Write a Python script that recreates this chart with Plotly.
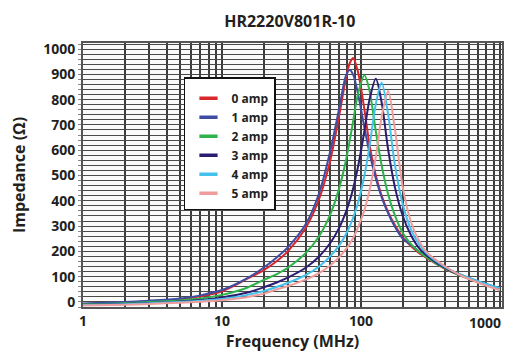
import math
import plotly.graph_objects as go

title_text = "HR2220V801R-10"
x_title = "Frequency (MHz)"
y_title = "Impedance (Ω)"

freq_mhz = [1, 2, 3, 5, 7, 10, 15, 20, 25, 30, 40, 50, 60, 70, 78, 83, 88, 95,
            106, 115, 128, 141, 157, 175, 200, 230, 260, 300, 400, 500, 700, 1000]

series_names = ["0 amp", "1 amp", "2 amp", "3 amp", "4 amp", "5 amp"]

z_0amp = [-8, -2, 3, 11, 22, 42, 90, 126, 163, 202, 292, 407, 557, 742, 884, 944, 965, 912,
          760, 625, 500, 420, 355, 305, 255, 220, 195, 172, 132, 108, 78, 52]
z_1amp = [-6, 0, 5, 14, 26, 47, 92, 136, 178, 218, 307, 430, 594, 770, 895, 917, 898, 826,
          689, 592, 488, 414, 350, 298, 250, 225, 200, 175, 135, 112, 80, 54]
z_2amp = [-10, -5, 0, 6, 14, 28, 55, 87, 111, 136, 193, 260, 344, 453, 560, 637, 717, 820,
          896, 838, 674, 539, 425, 344, 273, 228, 200, 175, 133, 108, 78, 50]
z_3amp = [-12, -8, -4, 2, 8, 18, 36, 58, 78, 97, 135, 180, 232, 295, 356, 400, 450, 531,
          677, 798, 883, 788, 602, 457, 340, 262, 215, 182, 136, 110, 80, 52]
z_4amp = [-12, -9, -5, 0, 5, 12, 27, 43, 60, 76, 106, 140, 180, 225, 268, 299, 334, 390,
          501, 611, 783, 867, 741, 547, 385, 284, 230, 190, 140, 112, 82, 54]
z_5amp = [-14, -11, -8, -3, 1, 7, 19, 33, 50, 63, 88, 114, 144, 178, 209, 230, 254, 293,
          364, 439, 575, 732, 834, 688, 453, 313, 245, 195, 142, 110, 76, 46]

series_values = [z_0amp, z_1amp, z_2amp, z_3amp, z_4amp, z_5amp]
series_colors = ["#d9262b", "#3f4ca3", "#2eb34b", "#2b1d72", "#44c1ec", "#f09c9c"]

x_tick_vals = [1, 10, 100, 1000]
x_tick_text = ["1", "10", "100", "1000"]

# y grid every 20, labels every 100
y_grid_vals = list(range(-20, 1021, 20))
y_labeled = [0, 100, 200, 300, 400, 500, 600, 700, 800, 900, 1000]
y_tick_text = [str(v) if v in y_labeled else "" for v in y_grid_vals]

FONT = "Open Sans"

fig = go.Figure()
for name, vals, col in zip(series_names, series_values, series_colors):
    fig.add_trace(go.Scatter(
        x=freq_mhz, y=vals, mode="lines", name=name, legendgroup=name,
        showlegend=False, line=dict(color=col, width=2, shape="spline", smoothing=0.8),
        hoverinfo="x+y+name"))
    fig.add_trace(go.Scatter(
        x=[None], y=[None], mode="markers", name=name, legendgroup=name,
        marker=dict(symbol="line-ew", size=13, line=dict(color=col, width=3.5))))

# the last x tick label sits right-aligned at the plot edge (as in the reference)
shown_ticktext = x_tick_text[:-1] + [""]
fig.add_annotation(x=math.log10(x_tick_vals[-1]), xref="x", y=0, yref="paper",
                   text="<b>" + x_tick_text[-1] + "</b>", showarrow=False,
                   xanchor="right", yanchor="top", xshift=3, yshift=-4,
                   font=dict(size=14, family=FONT, color="#231f20"))

grid_col = "#3c3c3c"
# page body has an 8px default margin, so the figure is 8px smaller
fig.update_layout(
    width=505, height=353,
    margin=dict(l=75, r=11, t=35, b=54, autoexpand=False),
    paper_bgcolor="white", plot_bgcolor="#fafafa",
    font=dict(family=FONT, size=13, color="#231f20"),
    title=dict(text="<b>" + title_text + "</b>", x=0.558, xanchor="center",
               y=0.962, yanchor="middle", font=dict(size=16, family=FONT, color="#231f20")),
    showlegend=True,
    legend=dict(x=0.241, y=0.871, xanchor="left", yanchor="top",
                bgcolor="white", bordercolor="#111111", borderwidth=1.5,
                font=dict(size=12, family=FONT, color="#231f20", weight="bold"),
                title=dict(text=" ", font=dict(size=4)),
                itemwidth=36, tracegroupgap=0),
    xaxis=dict(type="log", range=[0, 3.015], automargin=False,
               tickvals=x_tick_vals, ticktext=shown_ticktext,
               tickfont=dict(size=14, family=FONT, weight="bold"),
               showgrid=True, gridcolor=grid_col, gridwidth=1.6,
               minor=dict(dtick="D1", showgrid=True, gridcolor=grid_col, gridwidth=1.6),
               showline=True, linecolor="#555555", linewidth=2, mirror=True,
               ticks="", zeroline=False,
               title=dict(text="<b>" + x_title + "</b>", font=dict(size=16, family=FONT), standoff=2)),
    yaxis=dict(range=[-20, 1024], automargin=False,
               tickmode="array", tickvals=y_grid_vals, ticktext=y_tick_text,
               tickfont=dict(size=14, family=FONT, weight="bold"),
               showgrid=True, gridcolor="#4a4a4a", gridwidth=1.2,
               showline=True, linecolor="#555555", linewidth=2, mirror=True,
               ticks="outside", ticklen=3, tickcolor="#888888", zeroline=False,
               title=dict(text="<b>" + y_title + "</b>", font=dict(size=16, family=FONT), standoff=14)),
)

fig.write_html("out.html")
